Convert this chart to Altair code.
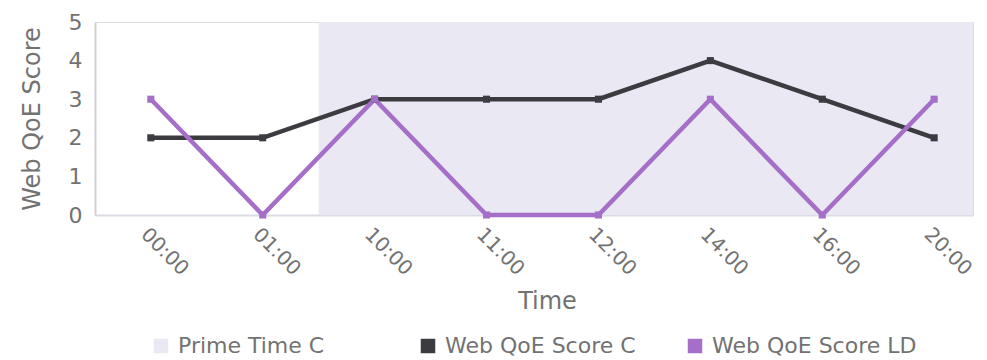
import altair as alt
import pandas as pd

times = ["00:00", "01:00", "10:00", "11:00", "12:00", "14:00", "16:00", "20:00"]
score_c = [2, 2, 3, 3, 3, 4, 3, 2]
score_ld = [3, 0, 3, 0, 0, 3, 0, 3]
series_names = ["Prime Time C", "Web QoE Score C", "Web QoE Score LD"]
series_colors = ["#e9e8f3", "#3b3b40", "#a56ec8"]
prime_start, prime_end = 1.5, 7.347

rows = []
for i, t in enumerate(times):
    rows.append({"idx": i, "time": t, "series": "Web QoE Score C", "value": score_c[i]})
    rows.append({"idx": i, "time": t, "series": "Web QoE Score LD", "value": score_ld[i]})
df = pd.DataFrame(rows)
band = pd.DataFrame([{"x": prime_start, "x2": prime_end, "y": 0, "y2": 5, "series": "Prime Time C"}])

label_expr = "[" + ",".join(f"'{t}'" for t in times) + "][datum.value]"
font = "DejaVu Sans"
text_col = "#727272"

xscale = alt.Scale(domain=[-0.4987, 7.347], nice=False, zero=False)
yscale = alt.Scale(domain=[0, 5], nice=False)
cscale = alt.Scale(domain=series_names, range=series_colors)

xaxis = alt.Axis(values=list(range(len(times))), labelExpr=label_expr, labelAngle=45,
                 labelFontSize=20, labelColor=text_col, labelFont=font, ticks=False,
                 labelPadding=9, grid=False, domainColor="#dcdce4", domainWidth=2,
                 labelOverlap=False, labelBound=False, labelFlush=False,
                 title="Time", titleFontSize=24, titleColor=text_col, titleFont=font,
                 titleFontWeight="normal", titleBaseline="alphabetic", titleY=93, titleX=452)
yaxis = alt.Axis(values=[0, 1, 2, 3, 4, 5], labelFontSize=22, labelColor=text_col, labelFont=font,
                 ticks=False, grid=False, labelPadding=13, domainColor="#d0d0d6", domainWidth=2,
                 labelOverlap=False, tickCount=6,
                 title="Web QoE Score", titleFontSize=24, titleColor=text_col, titleFont=font,
                 titleFontWeight="normal", titlePadding=24)

legend = alt.Legend(title=None, orient="none", legendX=55, legendY=313, direction="horizontal",
                    columns=3, gridAlign="all", columnPadding=34, symbolType="square",
                    symbolSize=210, symbolStrokeWidth=0, symbolOpacity=1, labelFontSize=22,
                    labelColor=text_col, labelFont=font, labelOffset=6, padding=0, labelLimit=0)

rect = alt.Chart(band).mark_rect(opacity=1).encode(
    x=alt.X("x:Q", scale=xscale, axis=xaxis),
    x2="x2:Q",
    y=alt.Y("y:Q", scale=yscale, axis=yaxis),
    y2="y2:Q",
    color=alt.Color("series:N", scale=cscale, legend=legend),
)

lines = alt.Chart(df).mark_line(strokeWidth=4.5).encode(
    x=alt.X("idx:Q", scale=xscale, axis=xaxis),
    y=alt.Y("value:Q", scale=yscale, axis=yaxis),
    color=alt.Color("series:N", scale=cscale, legend=legend),
)

points = alt.Chart(df).mark_point(shape="square", filled=True, size=50, opacity=1).encode(
    x=alt.X("idx:Q", scale=xscale, axis=xaxis),
    y=alt.Y("value:Q", scale=yscale, axis=yaxis),
    color=alt.Color("series:N", scale=cscale, legend=legend),
)

chart = alt.layer(rect, lines, points).properties(
    width=878, height=193,
    autosize=alt.AutoSizeParams(type="none"),
    padding={"left": 87, "top": 14, "right": 6, "bottom": 143},
).configure_view(stroke=None).configure_axisY(labelOverlap=False).configure(background="white")

chart.save("out.html", embed_options={"renderer": "svg", "actions": False})
